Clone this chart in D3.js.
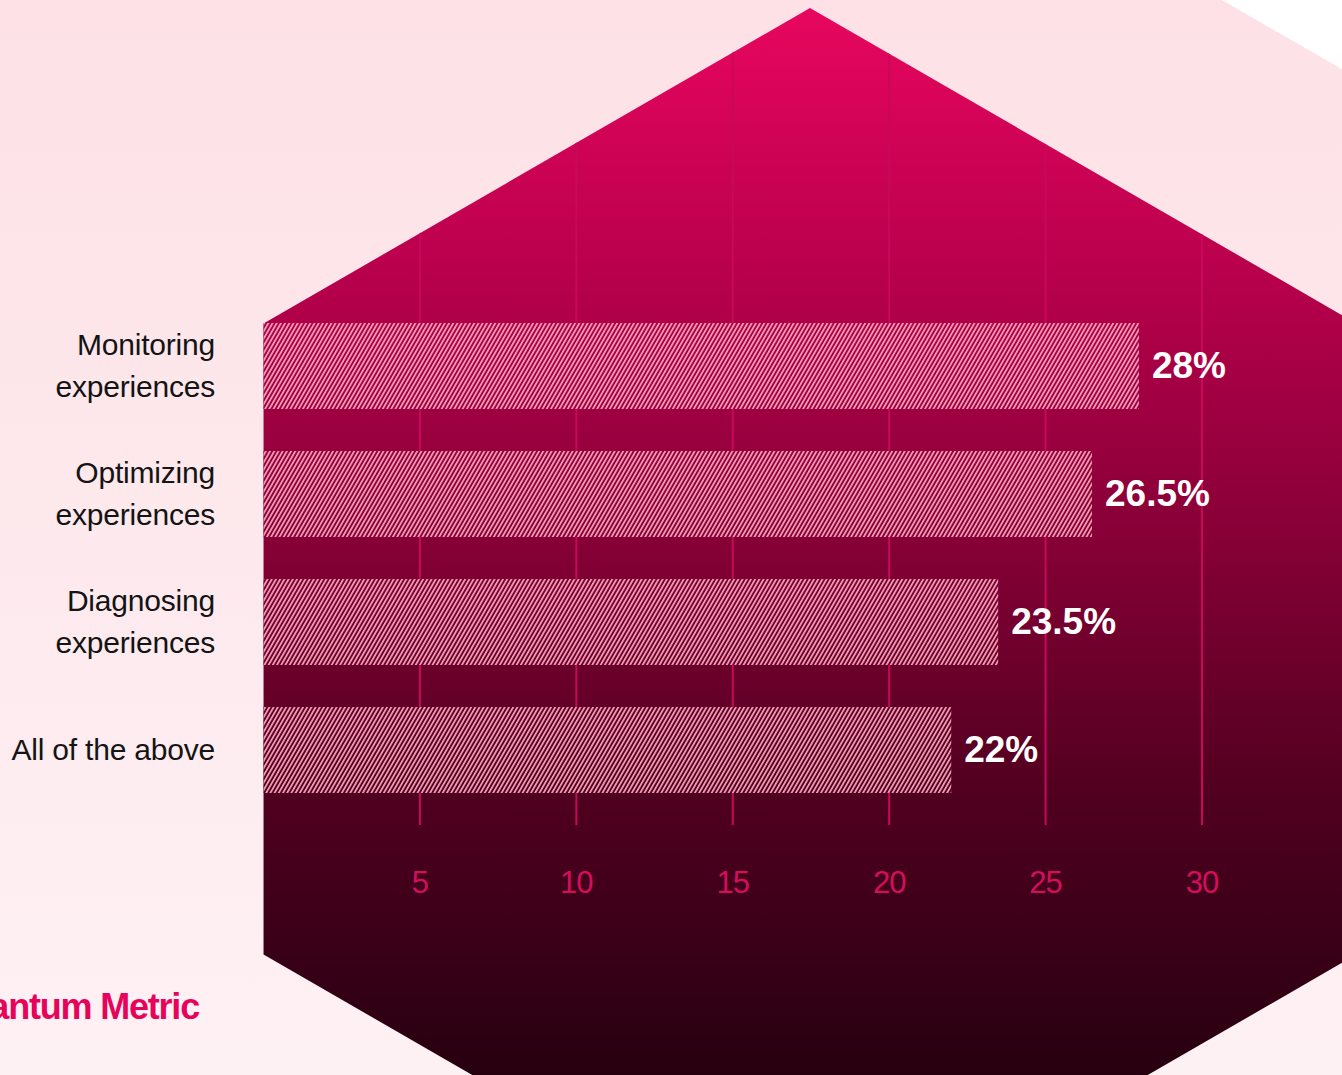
<!DOCTYPE html>
<html>
<head>
<meta charset="utf-8">
<script src="https://cdn.jsdelivr.net/npm/d3@7"></script>
<style>
  html, body { margin: 0; padding: 0; background: #ffffff; }
  svg { display: block; }
</style>
</head>
<body>
<svg id="chart" width="1342" height="1075"></svg>
<script>
// Survey answers: share of respondents (%)
const categories = ["Monitoring\nexperiences", "Optimizing\nexperiences", "Diagnosing\nexperiences", "All of the above"];
const values = [28, 26.5, 23.5, 22];
const valueLabels = ["28%", "26.5%", "23.5%", "22%"];
const tickValues = [5, 10, 15, 20, 25, 30];
const tickLabels = ["5", "10", "15", "20", "25", "30"];
const brand = "Quantum Metric";

const W = 1342, H = 1075;
const svg = d3.select("#chart");
const defs = svg.append("defs");

// Page background: soft pink, slightly lighter toward the bottom
const bgGrad = defs.append("linearGradient")
  .attr("id", "bgGrad").attr("gradientUnits", "userSpaceOnUse")
  .attr("x1", 0).attr("y1", 0).attr("x2", 0).attr("y2", H);
bgGrad.append("stop").attr("offset", 0).attr("stop-color", "#fde1e6");
bgGrad.append("stop").attr("offset", 1).attr("stop-color", "#fef1f4");

svg.append("rect").attr("width", W).attr("height", H).attr("fill", "#ffffff");
svg.append("path")
  .attr("d", d3.line()([[0, 0], [1222, 0], [1342, 69.3], [1342, H], [0, H]]) + "Z")
  .attr("fill", "url(#bgGrad)");

// Hexagon panel (pointy top) with a deep magenta gradient
const cx = 810, cy = 639, R = 631;
const hexPts = d3.range(6).map(i => {
  const a = -Math.PI / 2 + i * Math.PI / 3;
  return [cx + R * Math.cos(a), cy + R * Math.sin(a)];
});
const hexPath = d3.line()(hexPts) + "Z";

const hexGrad = defs.append("linearGradient")
  .attr("id", "hexGrad").attr("gradientUnits", "userSpaceOnUse")
  .attr("x1", 0).attr("y1", 8).attr("x2", 0).attr("y2", H);
[[0, "#e8065f"], [0.25, "#b8004c"], [0.5, "#860036"], [0.75, "#4e001e"], [1, "#270010"]]
  .forEach(([o, c]) => hexGrad.append("stop").attr("offset", o).attr("stop-color", c));

defs.append("clipPath").attr("id", "hexClip").append("path").attr("d", hexPath);

// Diagonal hatch used inside the bars
const hatch = defs.append("pattern")
  .attr("id", "hatch").attr("patternUnits", "userSpaceOnUse")
  .attr("width", 3.64).attr("height", 10)
  .attr("patternTransform", "rotate(30)");
hatch.append("rect").attr("x", 0).attr("y", 0).attr("width", 1.7).attr("height", 10)
  .attr("fill", "#f5a2b8");

svg.append("path").attr("d", hexPath).attr("fill", "url(#hexGrad)");

// Scales
const x = d3.scaleLinear().domain([0, 30]).range([263, 1201.5]);
const y = d3.scaleBand().domain(categories).range([302, 814])
  .paddingInner(42 / 128).paddingOuter(21 / 128);

const axisY = 825;
const plot = svg.append("g").attr("clip-path", "url(#hexClip)");

// Gridlines and tick labels
const axis = d3.axisBottom(x)
  .tickValues(tickValues)
  .tickFormat((d, i) => tickLabels[i])
  .tickSizeInner(-axisY)
  .tickSizeOuter(0)
  .tickPadding(46);

const gAxis = plot.append("g")
  .attr("transform", `translate(0,${axisY})`)
  .call(axis);
gAxis.select(".domain").remove();
gAxis.selectAll(".tick line")
  .attr("stroke", "#c8085a").attr("stroke-width", 2);
gAxis.selectAll(".tick text")
  .attr("fill", "#d30f5c")
  .attr("font-family", "'Liberation Sans', Arial, sans-serif")
  .attr("font-size", 31)
  .attr("letter-spacing", "-1px");

// Bars: gradient base (hides gridlines) plus hatch overlay
const bars = plot.append("g");
bars.selectAll("rect.base").data(categories).join("rect")
  .attr("class", "base")
  .attr("x", x(0))
  .attr("y", d => y(d))
  .attr("width", (d, i) => x(values[i]) - x(0))
  .attr("height", y.bandwidth())
  .attr("fill", "url(#hexGrad)");
bars.selectAll("rect.hatch").data(categories).join("rect")
  .attr("class", "hatch")
  .attr("x", x(0))
  .attr("y", d => y(d))
  .attr("width", (d, i) => x(values[i]) - x(0))
  .attr("height", y.bandwidth())
  .attr("fill", "url(#hatch)");

// Value labels
svg.append("g").selectAll("text").data(categories).join("text")
  .attr("x", (d, i) => x(values[i]) + 13)
  .attr("y", d => y(d) + y.bandwidth() / 2 + 12)
  .attr("fill", "#ffffff")
  .attr("font-family", "'Liberation Sans', Arial, sans-serif")
  .attr("font-weight", "bold")
  .attr("font-size", 37)
  .attr("letter-spacing", "0px")
  .text((d, i) => valueLabels[i]);

// Category labels (right aligned, up to two lines)
const lineGap = 42;
const catText = svg.append("g").selectAll("text").data(categories).join("text")
  .attr("text-anchor", "end")
  .attr("fill", "#141414")
  .attr("font-family", "'Liberation Sans', Arial, sans-serif")
  .attr("font-size", 30)
  .attr("letter-spacing", "-0.2px");
catText.each(function (d) {
  const lines = d.split("\n");
  const mid = y(d) + y.bandwidth() / 2;
  const first = mid + 10 - (lines.length - 1) * lineGap / 2;
  d3.select(this).selectAll("tspan").data(lines).join("tspan")
    .attr("x", 215)
    .attr("y", (l, j) => first + j * lineGap)
    .text(l => l);
});

// Brand wordmark
svg.append("text")
  .attr("x", 199).attr("y", 1019)
  .attr("text-anchor", "end")
  .attr("fill", "#e6045b")
  .attr("font-family", "'Liberation Sans', Arial, sans-serif")
  .attr("font-weight", "bold")
  .attr("font-size", 36)
  .attr("letter-spacing", "-1.2px")
  .text(brand);
</script>
</body>
</html>
